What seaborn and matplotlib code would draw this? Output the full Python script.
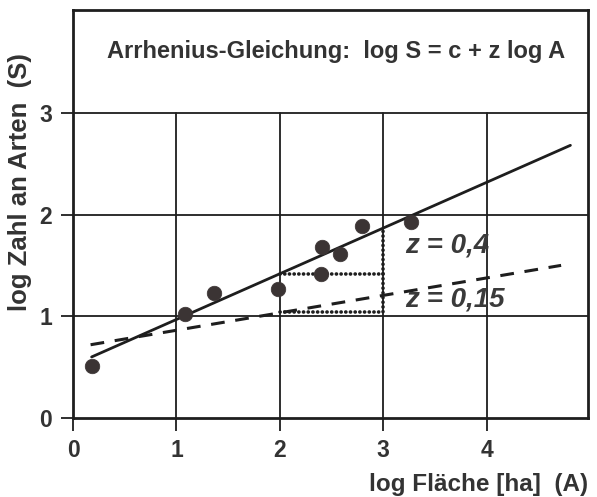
import matplotlib
matplotlib.use("Agg")
import matplotlib.pyplot as plt
import seaborn as sns
import pandas as pd

# ---- data ----
area_log = [0.18, 1.08, 1.36, 1.98, 2.40, 2.41, 2.58, 2.79, 3.27]
species_log = [0.51, 1.02, 1.23, 1.27, 1.42, 1.68, 1.61, 1.89, 1.93]

fit_z04_x = [0.18, 4.81]
fit_z04_y = [0.60, 2.68]
fit_z015_x = [0.17, 4.72]
fit_z015_y = [0.72, 1.50]

tri_upper_x = [2.0, 3.0, 3.0]
tri_upper_y = [1.42, 1.42, 1.87]
tri_lower_x = [2.0, 3.0, 3.0]
tri_lower_y = [1.045, 1.045, 1.42]

x_ticks = [0, 1, 2, 3, 4]
y_ticks = [0, 1, 2, 3]

title_text = "Arrhenius-Gleichung:  log S = c + z log A"
label_z04 = "z = 0,4"
label_z015 = "z = 0,15"
x_label = "log Fläche [ha]  (A)"
y_label = "log Zahl an Arten  (S)"

sns.set_theme(style="white")
plt.rcParams['font.family'] = ['Liberation Sans', 'DejaVu Sans']

fig = plt.figure(figsize=(5.97, 4.97), dpi=100)
ax = fig.add_axes([73/597, 1-418/497, (588-73)/597, (418-10)/497])

line_col = "#1e1e1e"
txt_col = "#3a3a3a"

# grid (vertical only up to y=3, title box above)
for v in x_ticks[1:]:
    ax.plot([v, v], [0, 3], color=line_col, lw=1.3, zorder=1)
for h in y_ticks[1:]:
    ax.axhline(h, color=line_col, lw=1.3, zorder=1)

pts = pd.DataFrame({"A": area_log, "S": species_log})
sns.scatterplot(data=pts, x="A", y="S", ax=ax, s=110, color="#3b3434",
                edgecolor="#3b3434", linewidth=0.5, zorder=4)

sns.lineplot(x=fit_z04_x, y=fit_z04_y, ax=ax, color=line_col, lw=2.0, zorder=3)
sns.lineplot(x=fit_z015_x, y=fit_z015_y, ax=ax, color=line_col, lw=2.2,
             linestyle=(0, (4.5, 3.5)), zorder=3)
for tx, ty in [(tri_upper_x, tri_upper_y), (tri_lower_x, tri_lower_y)]:
    sns.lineplot(x=tx, y=ty, ax=ax, color=line_col, lw=2.6,
                 linestyle=(0, (0.05, 1.25)), dash_capstyle='round',
                 sort=False, estimator=None, zorder=2)

ax.set_xlim(0, 4.98)
ax.set_ylim(0, 4.01)
ax.set_xticks(x_ticks)
ax.set_yticks(y_ticks)
ax.tick_params(axis='both', which='both', direction='out', length=9, width=1.3,
               color=line_col, labelsize=16.5, labelcolor="#333333", pad=6,
               bottom=True, left=True)
for lab in ax.get_xticklabels() + ax.get_yticklabels():
    lab.set_fontweight('bold')

for sp in ax.spines.values():
    sp.set_color(line_col)
    sp.set_linewidth(2.0)

ax.set_xlabel(x_label, fontsize=17.5, fontweight='bold', color="#333333")
ax.xaxis.set_label_coords(1.0, -0.135)
ax.xaxis.label.set_horizontalalignment('right')
ax.set_ylabel(y_label, fontsize=18.5, fontweight='bold', color="#333333")
ax.yaxis.set_label_coords(-0.103, 0.578)
ax.yaxis.label.set_verticalalignment('center')

ax.text(0.33, 3.60, title_text, fontsize=17, fontweight='bold', color="#333333",
        ha='left', va='center')
ax.text(3.21, 1.70, label_z04, fontsize=20, fontweight='bold', style='italic',
        color=txt_col, ha='left', va='center')
ax.text(3.21, 1.16, label_z015, fontsize=20, fontweight='bold', style='italic',
        color=txt_col, ha='left', va='center')

fig.savefig("out.png", dpi=100)
